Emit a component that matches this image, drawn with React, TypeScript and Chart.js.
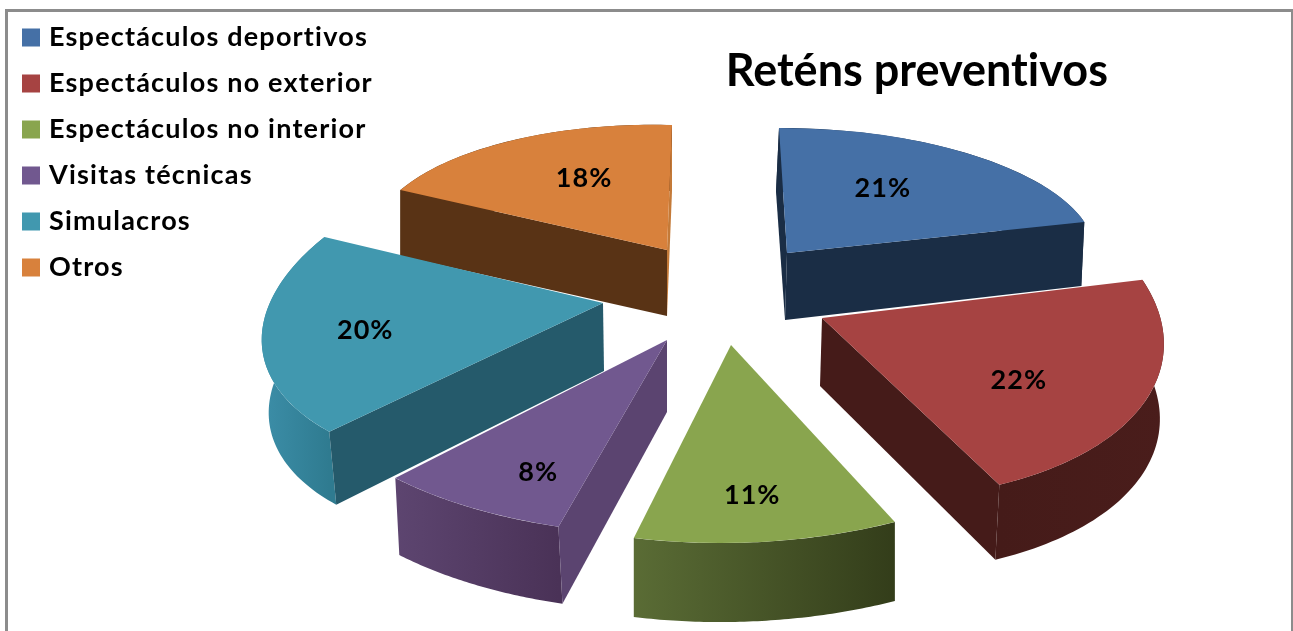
import React, { useEffect, useRef } from "react";
import { Chart, registerables } from "chart.js";

Chart.register(...registerables);

const categories = [
  "Espectáculos deportivos",
  "Espectáculos no exterior",
  "Espectáculos no interior",
  "Visitas técnicas",
  "Simulacros",
  "Otros",
];
const shares = [21, 22, 11, 8, 20, 18];
const chartTitle = "Reténs preventivos";

const topColors = ["#4570a6", "#a64342", "#89a54e", "#71588f", "#4198af", "#d8813c"];

// How each exploded slice is seen in perspective (a style of the drawing, not data).
const sliceViews = [
  { ox: 787, oy: 253, a: 309, b: 0, c: 8, d: 125, dx: -3, dy: 64, adx: -2, ady: 67, startCut: "#1a2d45", endCut: "#1a2d45", rim: ["#1a2d45", "#1a2d45"], nx: -14, ny: -5 },
  { ox: 822, oy: 318, a: 340, b: 7, c: 36, d: 181, dx: -4, dy: 75, adx: -2, ady: 68, startCut: null, endCut: "#451b19", rim: ["#451b19", "#4a1d1b"], nx: 3, ny: 12 },
  { ox: 731, oy: 345, a: 387, b: -5, c: -1, d: 198, dx: 0, dy: 79, adx: 0, ady: 79, startCut: null, endCut: null, rim: ["#5a6c35", "#333d1a"], nx: 0, ny: 32 },
  { ox: 667, oy: 340, a: 382, b: 5, c: -14, d: 194, dx: 4, dy: 77, adx: 0, ady: 72, startCut: "#5b4470", endCut: null, rim: ["#5d4570", "#4a3257"], nx: -11, ny: 32 },
  { ox: 603, oy: 303, a: 336, b: -7, c: -60, d: 170, dx: 7, dy: 73, adx: 1, ady: 68, startCut: "#255a6b", endCut: null, rim: ["#3c8ea8", "#2f7b90"], nx: -33, ny: 4 },
  { ox: 667, oy: 250, a: 297, b: 7.5, c: -5, d: 125, dx: 0, dy: 66, adx: 0, ady: 66, startCut: "#593315", endCut: "#c47a38", rim: ["#593315", "#593315"], nx: 10, ny: -6 },
];
const paintOrder = [0, 5, 4, 1, 3, 2];
const labelRadius = 0.6;
const legendTracking = "1.2px";

const pie3d = {
  id: "pie3d",
  beforeLayout(chart: any) {
    chart.ctx.letterSpacing = legendTracking;
  },
  beforeDatasetsDraw(chart: any) {
    const { ctx } = chart;
    const arcs = chart.getDatasetMeta(0).data;
    const total = shares.reduce((s, v) => s + v, 0);
    for (const i of paintOrder) {
      const el = arcs[i];
      const v = sliceViews[i];
      const at = (phi: number) => ({
        x: v.ox + v.a * Math.cos(phi) + v.c * Math.sin(phi),
        y: v.oy + v.b * Math.cos(phi) + v.d * Math.sin(phi),
      });
      const quad = (p: any, fill: string) => {
        ctx.beginPath();
        ctx.moveTo(v.ox, v.oy);
        ctx.lineTo(p.x, p.y);
        ctx.lineTo(p.x + v.dx, p.y + v.dy);
        ctx.lineTo(v.ox + v.adx, v.oy + v.ady);
        ctx.closePath();
        ctx.fillStyle = fill;
        ctx.fill();
      };
      // outer rim
      const steps = 60;
      const pts: any[] = [];
      for (let k = 0; k <= steps; k++) {
        pts.push(at(el.startAngle + ((el.endAngle - el.startAngle) * k) / steps));
      }
      const xs = pts.map((p) => p.x);
      const g = ctx.createLinearGradient(Math.min(...xs), 0, Math.max(...xs), 0);
      g.addColorStop(0, v.rim[0]);
      g.addColorStop(1, v.rim[1]);
      ctx.beginPath();
      pts.forEach((p, k) => (k ? ctx.lineTo(p.x, p.y) : ctx.moveTo(p.x, p.y)));
      for (let k = steps; k >= 0; k--) ctx.lineTo(pts[k].x + v.dx, pts[k].y + v.dy);
      ctx.closePath();
      ctx.fillStyle = g;
      ctx.fill();
      // radial cut faces
      if (v.startCut) quad(at(el.startAngle), v.startCut);
      if (v.endCut) quad(at(el.endAngle), v.endCut);
      // top face: the library's own arc, seen through the slice's projection
      const R = el.outerRadius;
      const ma = v.a / R, mb = v.b / R, mc = v.c / R, md = v.d / R;
      ctx.save();
      ctx.transform(ma, mb, mc, md, v.ox - ma * el.x - mc * el.y, v.oy - mb * el.x - md * el.y);
      el.draw(ctx);
      ctx.restore();
    }
    ctx.save();
    ctx.font = "bold 27px Lato";
    (ctx as any).letterSpacing = "1px";
    ctx.fillStyle = "#000";
    ctx.textAlign = "center";
    ctx.textBaseline = "middle";
    arcs.forEach((el: any, i: number) => {
      const v = sliceViews[i];
      const phi = (el.startAngle + el.endAngle) / 2;
      const x = v.ox + labelRadius * (v.a * Math.cos(phi) + v.c * Math.sin(phi)) + v.nx;
      const y = v.oy + labelRadius * (v.b * Math.cos(phi) + v.d * Math.sin(phi)) + v.ny;
      ctx.fillText(`${Math.round((shares[i] / total) * 100)}%`, x, y);
    });
    ctx.restore();
    return false;
  },
};

const frame = {
  id: "frame",
  beforeDraw(chart: any) {
    const { ctx, width, height } = chart;
    ctx.save();
    ctx.fillStyle = "#fff";
    ctx.fillRect(0, 0, width, height);
    ctx.strokeStyle = "#8c8c8c";
    ctx.lineWidth = 3;
    ctx.beginPath();
    ctx.moveTo(6.5, height + 2);
    ctx.lineTo(6.5, 10.5);
    ctx.lineTo(width - 0.5, 10.5);
    ctx.lineTo(width - 0.5, height + 2);
    ctx.stroke();
    ctx.restore();
    // a tiny tracking keeps Lato from joining "ti" into a ligature
    ctx.letterSpacing = "0.01px";
    const legend = chart.legend;
    if (!legend.__spaced) {
      const draw = legend.draw;
      legend.draw = function (...args: any[]) {
        ctx.letterSpacing = legendTracking;
        draw.apply(this, args);
        ctx.letterSpacing = "0.01px";
      };
      legend.__spaced = true;
    }
  },
};

export default function App() {
  const ref = useRef<HTMLCanvasElement>(null);
  useEffect(() => {
    const chart = new Chart(ref.current as any, {
      type: "pie",
      data: {
        labels: categories,
        datasets: [{ data: shares, backgroundColor: topColors, borderWidth: 0 }],
      },
      options: {
        responsive: false,
        animation: false,
        layout: { padding: { left: 7.5, right: 185, top: 5, bottom: 0 } },
        plugins: {
          tooltip: { enabled: false },
          title: {
            display: true,
            text: chartTitle,
            align: "end",
            color: "#000",
            font: { family: "Lato", size: 45, weight: "bold" },
            padding: { top: 39, bottom: 0 },
          },
          legend: {
            position: "left",
            align: "start",
            labels: {
              usePointStyle: true,
              pointStyle: "rect",
              boxWidth: 9,
              boxHeight: 18,
              padding: 19,
              color: "#000",
              font: { family: "Lato", size: 27, weight: "bold" },
            },
          },
        },
      },
      plugins: [pie3d, frame],
    } as any);
    return () => chart.destroy();
  }, []);
  return (
    <div style={{ position: "absolute", left: 0, top: 0, width: 1293, height: 631 }}>
      <canvas ref={ref} width={1293} height={631} style={{ display: "block" }} />
    </div>
  );
}
